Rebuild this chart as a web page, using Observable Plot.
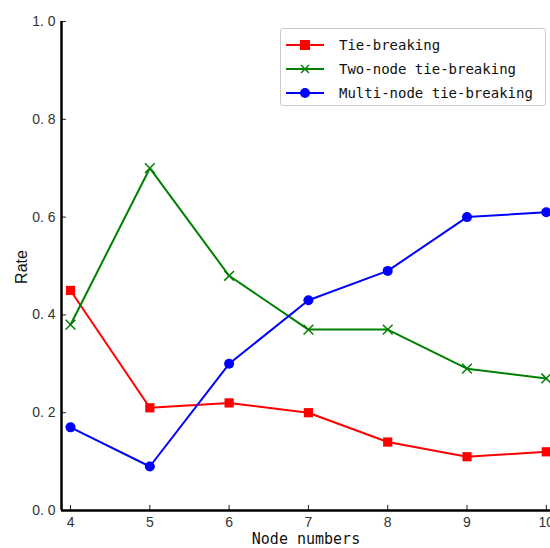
<!DOCTYPE html>
<html><head><meta charset="utf-8">
<script src="https://cdn.jsdelivr.net/npm/d3@7"></script>
<script src="https://cdn.jsdelivr.net/npm/@observablehq/plot@0.6"></script>
<style>
body{margin:0;background:#fff;}
#wrap{position:relative;width:550px;height:548px;}
#legend{position:absolute;left:280px;top:28px;width:266px;height:78px;box-sizing:border-box;border:1px solid #ccc;border-radius:3px;background:#fff;font-family:"DejaVu Sans Mono",monospace;font-size:14px;color:#111;padding-top:4px;}
#legend .row{display:flex;align-items:center;height:24px;}
#legend svg{margin-left:4px;margin-right:14px;}
</style></head>
<body><div id="wrap"><div id="chart"></div><div id="legend"></div></div>
<script>
const nodes = [4, 5, 6, 7, 8, 9, 10];
const tieBreaking = [0.45, 0.21, 0.22, 0.20, 0.14, 0.11, 0.12];
const twoNode = [0.38, 0.70, 0.48, 0.37, 0.37, 0.29, 0.27];
const multiNode = [0.17, 0.09, 0.30, 0.43, 0.49, 0.60, 0.61];
const seriesNames = ["Tie-breaking", "Two-node tie-breaking", "Multi-node tie-breaking"];
const seriesColors = ["#ff0000", "#008000", "#0000ff"];
const seriesSymbols = ["square", "times", "circle"];
const yTicks = [0, 0.2, 0.4, 0.6, 0.8, 1.0];
const xDomain = [3.886, 10.053];

const allSeries = [tieBreaking, twoNode, multiNode];
const data = allSeries.flatMap((vals, i) => nodes.map((n, j) => ({x: n, y: vals[j], s: seriesNames[i]})));

const font = '"DejaVu Sans Mono", monospace';
const tickFont = '"Liberation Sans", Arial, sans-serif';
const marks = [];
seriesNames.forEach((name, i) => {
  const d = data.filter(r => r.s === name);
  marks.push(Plot.line(d, {x: "x", y: "y", stroke: seriesColors[i], strokeWidth: 2}));
  if (seriesSymbols[i] === "times") {
    marks.push(Plot.dot(d, {x: "x", y: "y", symbol: "times", r: 4.5, stroke: seriesColors[i], strokeWidth: 1.5}));
  } else if (seriesSymbols[i] === "square") {
    marks.push(Plot.dot(d, {x: "x", y: "y", symbol: "square", r: 5.2, fill: seriesColors[i], stroke: "none"}));
  } else {
    marks.push(Plot.dot(d, {x: "x", y: "y", r: 5, fill: seriesColors[i], stroke: "none"}));
  }
});

const chart = Plot.plot({
  width: 550, height: 548,
  marginLeft: 61, marginRight: 0, marginTop: 21, marginBottom: 38,
  style: {fontFamily: tickFont, fontSize: "14px", color: "#333", background: "#fff"},
  x: {domain: xDomain},
  y: {domain: [0, 1]},
  marks: [
    Plot.axisX({ticks: nodes, tickFormat: d => String(d), tickSize: -5, tickPadding: 12, label: null, fontSize: 14, stroke: "#222", strokeWidth: 1}),
    Plot.axisY({ticks: yTicks, tickFormat: d => d.toFixed(1).replace(".", ". "), tickSize: -5, tickPadding: 11, label: null, fontSize: 14, stroke: "#222"}),
    Plot.ruleX([xDomain[0]], {stroke: "#000", strokeWidth: 2.5}),
    Plot.ruleY([0], {stroke: "#000", strokeWidth: 2.5}),
    ...marks
  ]
});
document.getElementById("chart").appendChild(chart);

// axis titles
const svg = d3.select(chart);
svg.append("text").attr("x", 306).attr("y", 544).attr("text-anchor", "middle")
  .style("font-family", font).style("font-size", "15px").attr("fill", "#111").text("Node numbers");
svg.append("text").attr("transform", "translate(27,267) rotate(-90)").attr("text-anchor", "middle")
  .style("font-family", tickFont).style("font-size", "16px").attr("fill", "#111").text("Rate");

// legend
const leg = d3.select("#legend");
seriesNames.forEach((name, i) => {
  const row = leg.append("div").attr("class", "row");
  const s = row.append("svg").attr("width", 40).attr("height", 14);
  s.append("line").attr("x1", 1).attr("x2", 39).attr("y1", 7).attr("y2", 7).attr("stroke", seriesColors[i]).attr("stroke-width", 2);
  if (seriesSymbols[i] === "square") s.append("rect").attr("x", 15).attr("y", 2).attr("width", 10).attr("height", 10).attr("fill", seriesColors[i]);
  else if (seriesSymbols[i] === "circle") s.append("circle").attr("cx", 20).attr("cy", 7).attr("r", 5).attr("fill", seriesColors[i]);
  else s.append("path").attr("d", "M16,3L24,11M24,3L16,11").attr("stroke", seriesColors[i]).attr("stroke-width", 1.5);
  row.append("span").text(name);
});
</script></body></html>
